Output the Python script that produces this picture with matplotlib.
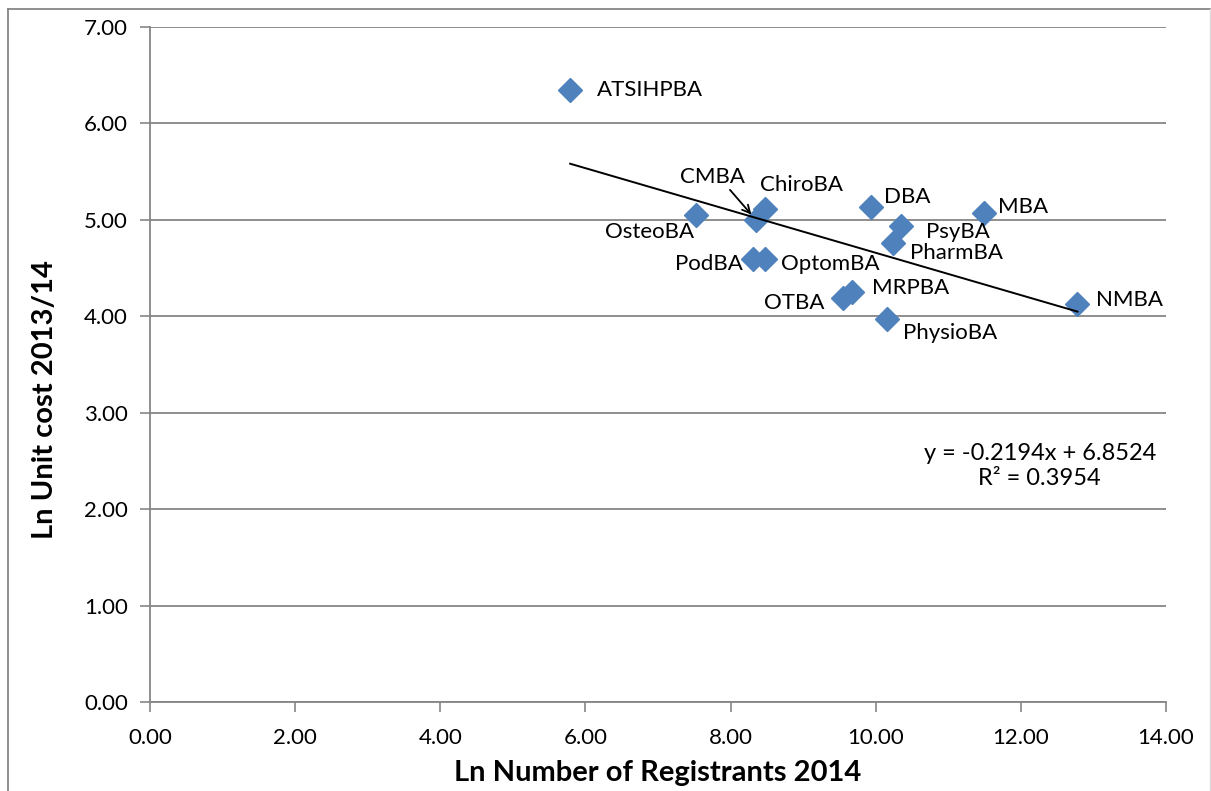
import matplotlib.pyplot as plt
from matplotlib.lines import Line2D

# Ln registrants (x) vs ln unit cost (y) per national board
boards = ["ATSIHPBA", "OsteoBA", "CMBA", "ChiroBA", "PodBA", "OptomBA", "DBA",
          "MBA", "PsyBA", "PharmBA", "OTBA", "MRPBA", "PhysioBA", "NMBA"]
ln_reg = [5.79, 7.52, 8.35, 8.48, 8.31, 8.47, 9.93,
          11.49, 10.35, 10.24, 9.55, 9.68, 10.16, 12.78]
ln_cost = [6.35, 5.05, 5.00, 5.11, 4.59, 4.59, 5.13,
           5.07, 4.94, 4.76, 4.19, 4.25, 3.97, 4.13]

slope = -0.2194
intercept = 6.8524
r2 = 0.3954

# label offsets in pixels (dx, dy, ha)
offsets = {
    "ATSIHPBA": (27, 0, "left"),
    "OsteoBA": (-2, -17, "right"),
    "CMBA": (-43, 43, "center"),
    "ChiroBA": (-5, 24, "left"),
    "PodBA": (-10, -5, "right"),
    "OptomBA": (16, -5, "left"),
    "DBA": (13, 10, "left"),
    "MBA": (14, 6, "left"),
    "PsyBA": (25, -6, "left"),
    "PharmBA": (17, -10, "left"),
    "OTBA": (-19, -5, "right"),
    "MRPBA": (20, 4, "left"),
    "PhysioBA": (16, -14, "left"),
    "NMBA": (19, 4, "left"),
}

plt.rcParams['font.family'] = ['Lato', 'DejaVu Sans']

fig = plt.figure(figsize=(12.11, 7.91), dpi=100)
ax = fig.add_axes([150/1211, 89/791, 1016/1211, 675/791])

ax.plot(ln_reg, ln_cost, linestyle="none", marker="D", markersize=12,
        color="#4F81BD", zorder=3)

xs = [min(ln_reg), max(ln_reg)]
ax.plot(xs, [slope * v + intercept for v in xs], color="black", lw=1.4, zorder=4)

for name, x, y in zip(boards, ln_reg, ln_cost):
    dx, dy, ha = offsets[name]
    ax.annotate(name, (x, y), xytext=(dx, dy), textcoords="offset pixels",
                ha=ha, va="center", fontsize=16)
    if name == "CMBA":
        ax.annotate("", (x, y), xytext=(-26, 30), textcoords="offset pixels",
                    arrowprops=dict(arrowstyle="->", color="black", lw=1.3,
                                    shrinkA=0, shrinkB=5, mutation_scale=14))

eq = f"y = {slope:.4f}x + {intercept:.4f}\nR\u00b2 = {r2:.4f}"
ax.text(12.26, 2.45, eq, ha="center", va="center", fontsize=17, linespacing=1.25)

ax.set_xlim(0, 14)
ax.set_ylim(0, 7)
ax.set_xticks(range(0, 15, 2))
ax.set_yticks(range(0, 8))
ax.set_xticklabels([f"{v:.2f}" for v in range(0, 15, 2)])
ax.set_yticklabels([f"{v:.2f}" for v in range(0, 8)])
ax.tick_params(labelsize=16, color="#868686", length=7, width=1.2)
ax.tick_params(axis="y", pad=9)
ax.tick_params(axis="x", pad=12)
ax.yaxis.grid(True, color="#868686", lw=1.3)
ax.set_axisbelow(True)
for s in ["top", "right"]:
    ax.spines[s].set_visible(False)
for s in ["left", "bottom"]:
    ax.spines[s].set_color("#868686")
    ax.spines[s].set_linewidth(1.3)

fig.text(658/1211, 1 - 773/791, "Ln Number of Registrants 2014", ha="center",
         va="center", fontsize=21, fontweight="bold")
fig.text(45/1211, 1 - 400/791, "Ln Unit cost 2013/14", ha="center",
         va="center", fontsize=21, fontweight="bold", rotation=90)

# outer chart border
fig.add_artist(Line2D([8/1211, 8/1211], [0, 1 - 9/791], color="#868686", lw=1.3))
fig.add_artist(Line2D([8/1211, 1210/1211], [1 - 9/791, 1 - 9/791], color="#868686", lw=1.3))
fig.add_artist(Line2D([1210/1211, 1210/1211], [0, 1 - 9/791], color="#d9d9d9", lw=1))

fig.savefig("out.png", dpi=100)
